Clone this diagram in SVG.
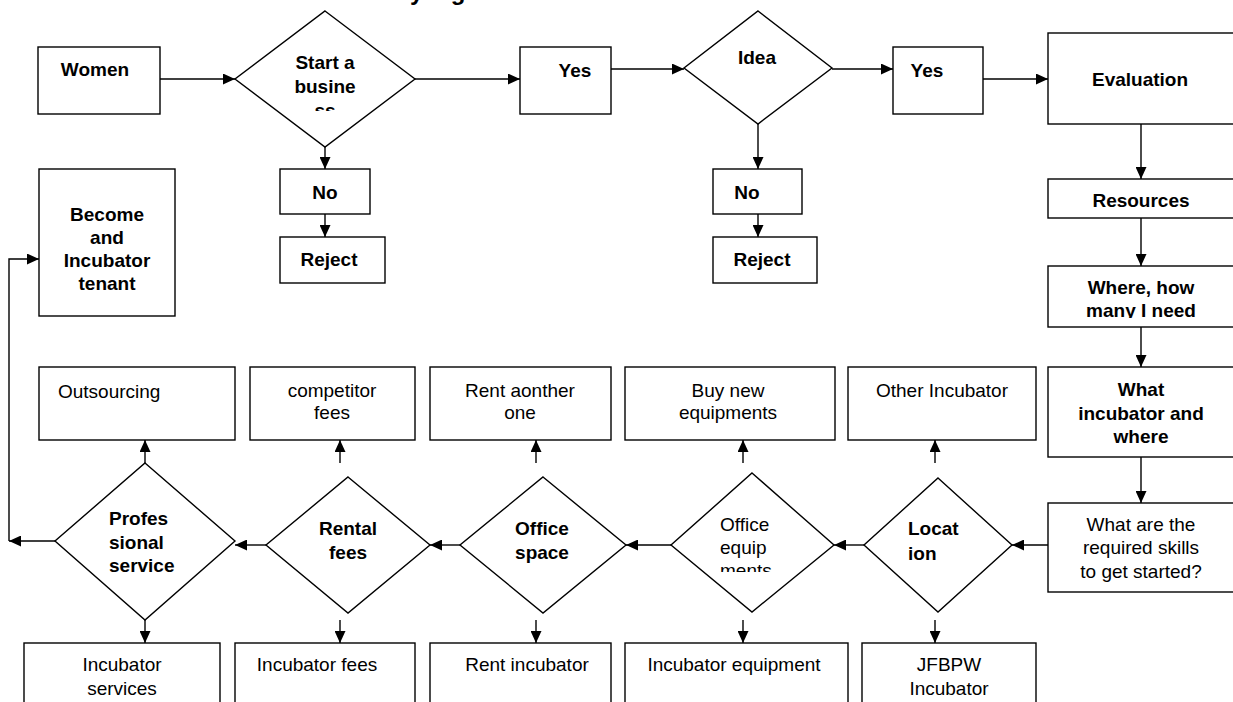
<svg xmlns="http://www.w3.org/2000/svg" width="1233" height="702" viewBox="0 0 1233 702">
<style>
.b{fill:#fff;stroke:#000;stroke-width:1.4}
.c{fill:none;stroke:#000;stroke-width:1.4}
text{font-family:"Liberation Sans",Arial,sans-serif;font-size:19px;fill:#000}
.t{font-weight:bold}
.m{text-anchor:middle}
</style>
<defs>
<marker id="ah" markerWidth="12" markerHeight="11" refX="12" refY="5.5" orient="auto" markerUnits="userSpaceOnUse"><path d="M0,0 L12,5.5 L0,11 Z" fill="#000"/></marker>
<clipPath id="c1"><rect x="230" y="0" width="190" height="111"/></clipPath>
<clipPath id="c2"><rect x="1040" y="260" width="200" height="58"/></clipPath>
<clipPath id="c3"><rect x="660" y="470" width="180" height="102"/></clipPath>
</defs>
<text class="t" x="410" y="0" font-size="24" letter-spacing="2" style="font-size:24px">ying</text>
<g id="connectors">
<path class="c" d="M160,79 H235" marker-end="url(#ah)"/>
<path class="c" d="M415,79 H520" marker-end="url(#ah)"/>
<path class="c" d="M611,69 H684" marker-end="url(#ah)"/>
<path class="c" d="M832,69 H893" marker-end="url(#ah)"/>
<path class="c" d="M983,79 H1048" marker-end="url(#ah)"/>
<path class="c" d="M325,147 V169" marker-end="url(#ah)"/>
<path class="c" d="M325,214 V237" marker-end="url(#ah)"/>
<path class="c" d="M758,124 V169" marker-end="url(#ah)"/>
<path class="c" d="M758,214 V237" marker-end="url(#ah)"/>
<path class="c" d="M1141,124 V179" marker-end="url(#ah)"/>
<path class="c" d="M1141,218 V266" marker-end="url(#ah)"/>
<path class="c" d="M1141,327 V367" marker-end="url(#ah)"/>
<path class="c" d="M1141,457 V503" marker-end="url(#ah)"/>
<path class="c" d="M1048,545 H1012" marker-end="url(#ah)"/>
<path class="c" d="M864,545 H834" marker-end="url(#ah)"/>
<path class="c" d="M671,545 H626" marker-end="url(#ah)"/>
<path class="c" d="M460,545 H430" marker-end="url(#ah)"/>
<path class="c" d="M266,545 H235" marker-end="url(#ah)"/>
<path class="c" d="M55,541 H9" marker-end="url(#ah)"/>
<path class="c" d="M9,541 V259 H39" marker-end="url(#ah)"/>
<path class="c" d="M145,463 V440" marker-end="url(#ah)"/>
<path class="c" d="M340,463 V440" marker-end="url(#ah)"/>
<path class="c" d="M536,463 V440" marker-end="url(#ah)"/>
<path class="c" d="M743,463 V440" marker-end="url(#ah)"/>
<path class="c" d="M935,463 V440" marker-end="url(#ah)"/>
<path class="c" d="M145,620 V643" marker-end="url(#ah)"/>
<path class="c" d="M340,620 V643" marker-end="url(#ah)"/>
<path class="c" d="M536,620 V643" marker-end="url(#ah)"/>
<path class="c" d="M743,620 V643" marker-end="url(#ah)"/>
<path class="c" d="M935,620 V643" marker-end="url(#ah)"/>
</g>
<g id="women"><rect class="b" x="38" y="47" width="122" height="67"/><text class="t m" x="95" y="76">Women</text></g>
<g id="start"><polygon class="b" points="325,11 415,79 325,147 235,79"/><g clip-path="url(#c1)"><text class="t m" x="325" y="69">Start a</text><text class="t m" x="325" y="93">busine</text><text class="t m" x="325" y="117">ss</text></g></g>
<g id="yes1"><rect class="b" x="520" y="47" width="91" height="67"/><text class="t m" x="575" y="77">Yes</text></g>
<g id="idea"><polygon class="b" points="758,11 832,68 758,124 684,68"/><text class="t m" x="757" y="64">Idea</text></g>
<g id="yes2"><rect class="b" x="893" y="47" width="90" height="67"/><text class="t m" x="927" y="77">Yes</text></g>
<g id="evaluation"><rect class="b" x="1048" y="33" width="195" height="91"/><text class="t m" x="1140" y="86">Evaluation</text></g>
<g id="no1"><rect class="b" x="280" y="169" width="90" height="45"/><text class="t m" x="325" y="199">No</text></g>
<g id="reject1"><rect class="b" x="280" y="237" width="105" height="46"/><text class="t m" x="329" y="266">Reject</text></g>
<g id="no2"><rect class="b" x="713" y="169" width="89" height="45"/><text class="t m" x="747" y="199">No</text></g>
<g id="reject2"><rect class="b" x="713" y="237" width="104" height="46"/><text class="t m" x="762" y="266">Reject</text></g>
<g id="become"><rect class="b" x="39" y="169" width="136" height="147"/><text class="t m" x="107" y="221">Become</text><text class="t m" x="107" y="244">and</text><text class="t m" x="107" y="267">Incubator</text><text class="t m" x="107" y="290">tenant</text></g>
<g id="resources"><rect class="b" x="1048" y="179" width="195" height="39"/><text class="t m" x="1141" y="207">Resources</text></g>
<g id="where"><rect class="b" x="1048" y="266" width="195" height="61"/><g clip-path="url(#c2)"><text class="t m" x="1141" y="294">Where, how</text><text class="t m" x="1141" y="317">many I need</text></g></g>
<g id="what-incubator"><rect class="b" x="1048" y="367" width="195" height="90"/><text class="t m" x="1141" y="396">What</text><text class="t m" x="1141" y="420">incubator and</text><text class="t m" x="1141" y="443">where</text></g>
<g id="skills"><rect class="b" x="1048" y="503" width="195" height="89"/><text class="m" x="1141" y="531">What are the</text><text class="m" x="1141" y="554">required skills</text><text class="m" x="1141" y="578">to get started?</text></g>
<g id="outsourcing"><rect class="b" x="39" y="367" width="196" height="73"/><text x="58" y="398">Outsourcing</text></g>
<g id="competitor"><rect class="b" x="250" y="367" width="165" height="73"/><text class="m" x="332" y="397">competitor</text><text class="m" x="332" y="419">fees</text></g>
<g id="rent-another"><rect class="b" x="430" y="367" width="181" height="73"/><text class="m" x="520" y="397">Rent aonther</text><text class="m" x="520" y="419">one</text></g>
<g id="buy-new"><rect class="b" x="625" y="367" width="210" height="73"/><text class="m" x="728" y="397">Buy new</text><text class="m" x="728" y="419">equipments</text></g>
<g id="other-incubator"><rect class="b" x="848" y="367" width="188" height="73"/><text class="m" x="942" y="397">Other Incubator</text></g>
<g id="professional"><polygon class="b" points="145,463 235,541 145,620 55,541"/><text class="t" x="109" y="525">Profes</text><text class="t" x="109" y="549">sional</text><text class="t" x="109" y="572">service</text></g>
<g id="rental"><polygon class="b" points="348,477 430,545 348,613 266,545"/><text class="t m" x="348" y="535">Rental</text><text class="t m" x="348" y="559">fees</text></g>
<g id="office-space"><polygon class="b" points="543,477 626,545 543,613 460,545"/><text class="t m" x="542" y="535">Office</text><text class="t m" x="542" y="559">space</text></g>
<g id="office-equipments"><polygon class="b" points="752,473 834,545 752,612 671,545"/><g clip-path="url(#c3)"><text x="720" y="531">Office</text><text x="720" y="554">equip</text><text x="720" y="577">ments</text></g></g>
<g id="location"><polygon class="b" points="938,478 1012,545 938,612 864,545"/><text class="t" x="908" y="535">Locat</text><text class="t" x="908" y="560">ion</text></g>
<g id="incubator-services"><rect class="b" x="24" y="643" width="196" height="70"/><text class="m" x="122" y="671">Incubator</text><text class="m" x="122" y="695">services</text></g>
<g id="incubator-fees"><rect class="b" x="235" y="643" width="180" height="70"/><text class="m" x="317" y="671">Incubator fees</text></g>
<g id="rent-incubator"><rect class="b" x="430" y="643" width="181" height="70"/><text class="m" x="527" y="671">Rent incubator</text></g>
<g id="incubator-equipment"><rect class="b" x="625" y="643" width="223" height="70"/><text class="m" x="734" y="671">Incubator equipment</text></g>
<g id="jfbpw"><rect class="b" x="862" y="643" width="174" height="70"/><text class="m" x="949" y="671">JFBPW</text><text class="m" x="949" y="695">Incubator</text></g>
</svg>
